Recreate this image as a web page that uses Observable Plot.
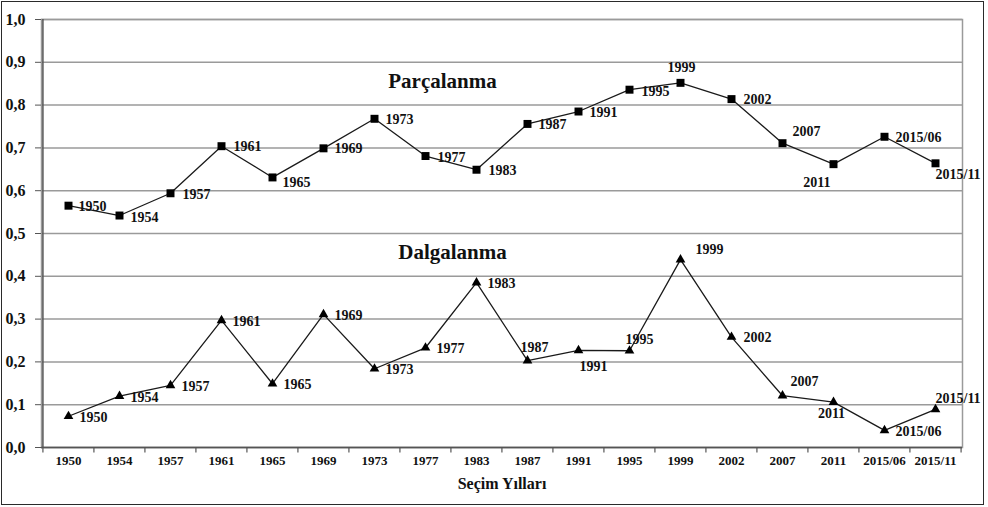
<!DOCTYPE html>
<html>
<head>
<meta charset="utf-8">
<script src="https://cdn.jsdelivr.net/npm/d3@7"></script>
<script src="https://cdn.jsdelivr.net/npm/@observablehq/plot@0.6"></script>
<style>
  html, body { margin: 0; padding: 0; background: #fff; }
  #wrap { position: relative; width: 988px; height: 507px; }
  #border { position: absolute; left: 1px; top: 1px; width: 981px; height: 502px; border: 1.5px solid #2a2a2a; pointer-events: none; }
  svg { display: block; }
</style>
</head>
<body>
<div id="wrap"><div id="border"></div></div>
<script>
// ---- Data ----
const years = ["1950","1954","1957","1961","1965","1969","1973","1977","1983","1987","1991","1995","1999","2002","2007","2011","2015/06","2015/11"];
const parcalanma = [0.565,0.542,0.594,0.704,0.631,0.699,0.768,0.681,0.649,0.756,0.785,0.836,0.852,0.814,0.711,0.662,0.726,0.664];
const dalgalanma = [0.073,0.120,0.145,0.297,0.149,0.311,0.184,0.233,0.385,0.203,0.227,0.226,0.439,0.258,0.121,0.106,0.040,0.089];
const yTicks = [0,0.1,0.2,0.3,0.4,0.5,0.6,0.7,0.8,0.9,1.0];
const seriesNames = ["Parçalanma", "Dalgalanma"];
const xTitle = "Seçim Yılları";

// ---- Layout (label placement: [anchor, dx, dy]) ----
const S = ["start", 11, 1];
const placeParc = {
  "1950": ["start",10,1], "1954": ["start",11,2], "1957": ["start",12,1], "1961": ["start",12,0],
  "1965": ["start",10,5], "1969": ["start",11,0], "1973": ["start",11,1], "1977": ["start",12,1],
  "1983": ["start",12,1], "1987": ["start",11,1], "1991": ["start",11,1], "1995": ["start",12,2],
  "1999": ["middle",1,-15], "2002": ["start",12,0], "2007": ["start",10,-12], "2011": ["end",-3,18],
  "2015/06": ["start",11,1], "2015/11": ["start",0,11]
};
const placeDalg = {
  "1987": ["middle",7,-13], "1991": ["middle",15,16], "1995": ["middle",10,-11], "1999": ["start",15,-10],
  "2002": ["start",12,0], "2007": ["start",8,-14], "2011": ["middle",-2,11], "2015/06": ["start",11,1],
  "2015/11": ["start",0,-11]
};

const W = 988, H = 507, mL = 41, mR = 26, mT = 19, mB = 60;
const step = (W - mL - mR) / years.length;
const font = "'Liberation Serif', 'Times New Roman', serif";

const parcData = years.map((y, i) => ({year: y, value: parcalanma[i]}));
const dalgData = years.map((y, i) => ({year: y, value: dalgalanma[i]}));
const fmt = d => d3.format(".1f")(d).replace(".", ",");

function labelMarks(data, place) {
  return data.map(d => {
    const [anchor, dx, dy] = place[d.year] || S;
    return Plot.text([d], {x: "year", y: "value", text: "year", textAnchor: anchor, dx, dy,
      fontSize: 14, fontWeight: "bold", fill: "#111"});
  });
}

const chart = Plot.plot({
  width: W, height: H,
  marginLeft: mL, marginRight: mR, marginTop: mT, marginBottom: mB,
  style: {fontFamily: font, background: "transparent", color: "#111"},
  x: {type: "point", domain: years, padding: 0.5, axis: null},
  y: {domain: [0, 1], axis: null},
  marks: [
    Plot.gridY(yTicks, {stroke: "#9a9a9a", strokeOpacity: 1, strokeWidth: 1.5}),
    Plot.frame({stroke: "#9a9a9a", strokeWidth: 1.5}),
    // axis lines
    Plot.ruleY([0], {stroke: "#555", strokeWidth: 1.5}),
    Plot.ruleX([years[0]], {y1: 0, y2: 1, dx: -step / 2, stroke: "#555", strokeWidth: 1.5}),
    // x ticks at category boundaries
    Plot.ruleX(years, {y1: 0, y2: -0.013, dx: -step / 2, stroke: "#555", strokeWidth: 1.2}),
    Plot.ruleX([years[years.length - 1]], {y1: 0, y2: -0.013, dx: step / 2, stroke: "#555", strokeWidth: 1.2}),
    Plot.axisY(yTicks, {tickSize: 6, tickPadding: 10, tickFormat: fmt, fontSize: 16, fontWeight: "bold", stroke: "#555", label: null}),
    Plot.axisX({tickSize: 0, tickPadding: 8, fontSize: 13, fontWeight: "bold", label: null}),
    // lines
    Plot.line(parcData, {x: "year", y: "value", stroke: "#1a1a1a", strokeWidth: 1.3}),
    Plot.line(dalgData, {x: "year", y: "value", stroke: "#1a1a1a", strokeWidth: 1.3}),
    Plot.dot(parcData, {x: "year", y: "value", symbol: "square", r: 4.5, fill: "#000", stroke: "none"}),
    Plot.dot(dalgData, {x: "year", y: "value", symbol: "triangle", r: 3.6, fill: "#000", stroke: "none"}),
    ...labelMarks(parcData, placeParc),
    ...labelMarks(dalgData, placeDalg),
    // series titles
    Plot.text([seriesNames[0]], {x: () => "1977", y: () => 0.856, dx: 17, fontSize: 21, fontWeight: "bold", fill: "#111"}),
    Plot.text([seriesNames[1]], {x: () => "1977", y: () => 0.4565, dx: 27, fontSize: 21, fontWeight: "bold", fill: "#111"}),
    // axis title
    Plot.text([xTitle], {frameAnchor: "bottom", dy: 41, fontSize: 16, fontWeight: "bold", fill: "#111"})
  ]
});
document.getElementById("wrap").prepend(chart);
</script>
</body>
</html>
